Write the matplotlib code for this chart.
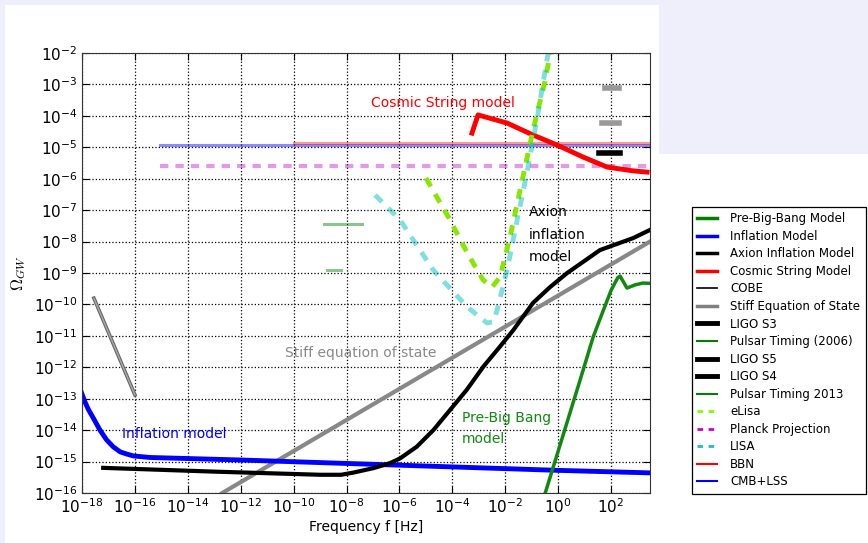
import matplotlib
matplotlib.use("Agg")
import matplotlib.pyplot as plt
import numpy as np
from matplotlib.lines import Line2D
from matplotlib.patches import Rectangle

# log10 values
infl_f = [-18.01, -17.89, -17.76, -17.57, -17.32, -17.07, -16.82, -16.56, -16.31, -16.06, -15.43,
          -12, -8, -4, 0, 3.47]
infl_o = [-12.83, -13.1, -13.34, -13.62, -14.0, -14.31, -14.53, -14.69, -14.76, -14.82, -14.87,
          -14.95, -15.06, -15.17, -15.28, -15.36]

axion_f = [-17.2, -13, -9, -8.2, -7.74, -6.99, -6.36, -5.98, -5.35, -4.72, -4.09, -3.46, -2.83,
           -2.2, -1.69, -0.95, -0.31, 0.34, 1.58, 2.83, 3.47]
axion_o = [-15.2, -15.32, -15.42, -15.42, -15.35, -15.21, -15.05, -14.9, -14.53, -14.0, -13.36,
           -12.72, -11.98, -11.34, -10.81, -9.95, -9.45, -9.0, -8.27, -7.89, -7.63]

stiff_f = [-12.7, 3.47]
stiff_o = [-16.0, -8.0]

cobe_f = [-17.55, -16.0]
cobe_o = [-9.8, -12.88]

cosmic_f = [-3.26, -3.03, -1.93, -0.95, -0.04, 0.94, 1.85, 2.83, 3.36]
cosmic_o = [-4.55, -3.97, -4.23, -4.61, -4.93, -5.31, -5.63, -5.75, -5.79]

pbb_f = [-0.49, 0.83, 1.32, 1.7, 2.0, 2.25, 2.34, 2.6, 2.9, 3.2, 3.47]
pbb_o = [-16.0, -12.4, -11.04, -10.2, -9.55, -9.15, -9.1, -9.48, -9.38, -9.32, -9.33]

lisa_f = [-6.92, -5.98, -4.73, -3.44, -2.69, -2.45, -2.31, -1.93, -1.55, -1.18, -0.8, -0.38]
lisa_o = [-6.52, -7.31, -8.9, -10.08, -10.59, -10.55, -10.18, -8.9, -7.31, -5.8, -4.1, -2.0]

elisa_f = [-5.0, -4.09, -3.44, -2.84, -2.5, -2.2, -1.82, -1.44, -0.95, -0.5, -0.3]
elisa_o = [-5.98, -7.31, -8.36, -9.22, -9.45, -9.13, -7.85, -6.36, -4.45, -2.9, -2.0]

pulsar06_f = [-8.85, -7.41]
pulsar06_o = [-7.44, -7.44]
pulsar13_f = [-8.74, -8.21]
pulsar13_o = [-8.9, -8.9]

ligo_s3_f = [1.77, 2.30]
ligo_s3_o = [-3.11, -3.11]
ligo_s4_f = [1.66, 2.30]
ligo_s4_o = [-4.23, -4.23]
ligo_s5_f = [1.55, 2.34]
ligo_s5_o = [-5.18, -5.18]

bbn_f = [-10.0, 3.47]
bbn_o = [-4.86, -4.86]
cmb_f = [-15.05, 3.47]
cmb_o = [-4.93, -4.93]
planck_f = [-15.05, 3.47]
planck_o = [-5.6, -5.6]

legend_labels = ["Pre-Big-Bang Model", "Inflation Model", "Axion Inflation Model",
                 "Cosmic String Model", "COBE", "Stiff Equation of State", "LIGO S3",
                 "Pulsar Timing (2006)", "LIGO S5", "LIGO S4", "Pulsar Timing 2013",
                 "eLisa", "Planck Projection", "LISA", "BBN", "CMB+LSS"]


def p(fx, oy):
    return 10.0 ** np.array(fx), 10.0 ** np.array(oy)


fig = plt.figure(figsize=(8.68, 5.43), dpi=100, facecolor="#efeffc")
fig.patches.append(Rectangle((5 / 868, 0), 654 / 868, 538 / 543, transform=fig.transFigure,
                             facecolor="white", edgecolor="none", zorder=-5))
fig.patches.append(Rectangle((659 / 868, 0), 209 / 868, 389 / 543, transform=fig.transFigure,
                             facecolor="white", edgecolor="none", zorder=-5))

ax = fig.add_axes([82 / 868, 50 / 543, 568 / 868, 440 / 543])
ax.set_xscale("log")
ax.set_yscale("log")

ax.plot(*p(cmb_f, cmb_o), color="blue", lw=2.2, alpha=0.45)
ax.plot(*p(bbn_f, bbn_o), color="red", lw=2.2, alpha=0.4)
ax.plot(*p(planck_f, planck_o), color="m", lw=3, alpha=0.4, dashes=(2, 1.7))
ax.plot(*p(pulsar06_f, pulsar06_o), color="g", lw=2.2, alpha=0.45)
ax.plot(*p(pulsar13_f, pulsar13_o), color="g", lw=2.2, alpha=0.45)
ax.plot(*p(ligo_s3_f, ligo_s3_o), color="#999999", lw=4)
ax.plot(*p(ligo_s4_f, ligo_s4_o), color="#999999", lw=4)
ax.plot(*p(ligo_s5_f, ligo_s5_o), color="black", lw=4)
ax.plot(*p(cobe_f, cobe_o), color="#666666", lw=2.6)
ax.plot(*p(cobe_f, cobe_o), color="#aaaaaa", lw=1)
ax.plot(*p(stiff_f, stiff_o), color="#888888", lw=3)
ax.plot(*p(infl_f, infl_o), color="blue", lw=3.5, solid_joinstyle="round")
ax.plot(*p(axion_f, axion_o), color="black", lw=3, solid_joinstyle="round")
ax.plot(*p(pbb_f, pbb_o), color="#118811", lw=2.5)
ax.plot(*p(cosmic_f, cosmic_o), color="red", lw=3.5, solid_joinstyle="round")
ax.plot(*p(elisa_f, elisa_o), color="#88e600", lw=3.5, dashes=(2, 1.8))
ax.plot(*p(lisa_f, lisa_o), color="c", lw=3.5, alpha=0.5, dashes=(2, 1.8))

ax.set_xlim(1e-18, 10 ** 3.47)
ax.set_ylim(1e-16, 1e-2)
ax.set_xticks([10.0 ** k for k in range(-18, 3, 2)])
ax.set_yticks([10.0 ** k for k in range(-16, -1)])
ax.xaxis.set_minor_locator(matplotlib.ticker.NullLocator())
ax.tick_params(which="both", direction="in", top=True, right=True, labelsize=11)
ax.tick_params(which="major", length=5)
ax.tick_params(axis="x", pad=3)
ax.grid(True, which="major", ls=":", color="black", lw=0.9)
for s in ax.spines.values():
    s.set_color("#333333")

ax.set_xlabel("Frequency f [Hz]", fontsize=10, labelpad=3)
ax.set_ylabel(r"$\Omega_{GW}$", fontsize=12, math_fontfamily="cm", labelpad=4)

ax.text(10 ** -4.35, 10 ** -3.59, "Cosmic String model", color="red", fontsize=10,
        ha="center", va="center")
ax.text(10 ** -1.1, 10 ** -6.85, "Axion\ninflation\nmodel", color="black", fontsize=10,
        ha="left", va="top", linespacing=1.75)
ax.text(10 ** -10.33, 10 ** -11.55, "Stiff equation of state", color="#888888", fontsize=10,
        ha="left", va="center")
ax.text(10 ** -16.49, 10 ** -14.12, "Inflation model", color="blue", fontsize=10,
        ha="left", va="center")
ax.text(10 ** -3.63, 10 ** -13.4, "Pre-Big Bang\nmodel", color="#118811", fontsize=10,
        ha="left", va="top", linespacing=1.65)

handles = [
    Line2D([], [], color="green", lw=2.5),
    Line2D([], [], color="blue", lw=2.5),
    Line2D([], [], color="black", lw=2.5),
    Line2D([], [], color="red", lw=2.5),
    Line2D([], [], color="black", lw=1.2),
    Line2D([], [], color="gray", lw=2.5),
    Line2D([], [], color="black", lw=3.5),
    Line2D([], [], color="green", lw=1.5),
    Line2D([], [], color="black", lw=3.5),
    Line2D([], [], color="black", lw=3.5),
    Line2D([], [], color="green", lw=1.5),
    Line2D([], [], color="#7fff00", lw=2, dashes=(2, 2)),
    Line2D([], [], color="#cc00cc", lw=2, dashes=(2, 2)),
    Line2D([], [], color="#22bbbb", lw=2, dashes=(2, 2)),
    Line2D([], [], color="red", lw=1.5),
    Line2D([], [], color="blue", lw=1.5),
]
leg = fig.legend(handles, legend_labels, loc="upper left", bbox_to_anchor=(692 / 868, 1 - 207 / 543),
                 borderaxespad=0, fontsize=8.5, fancybox=False, edgecolor="black", framealpha=1,
                 handlelength=1.7, handletextpad=1.1, labelspacing=0.385, borderpad=0.45)
leg.get_frame().set_linewidth(0.9)

fig.savefig("out.png", dpi=100, facecolor=fig.get_facecolor())
